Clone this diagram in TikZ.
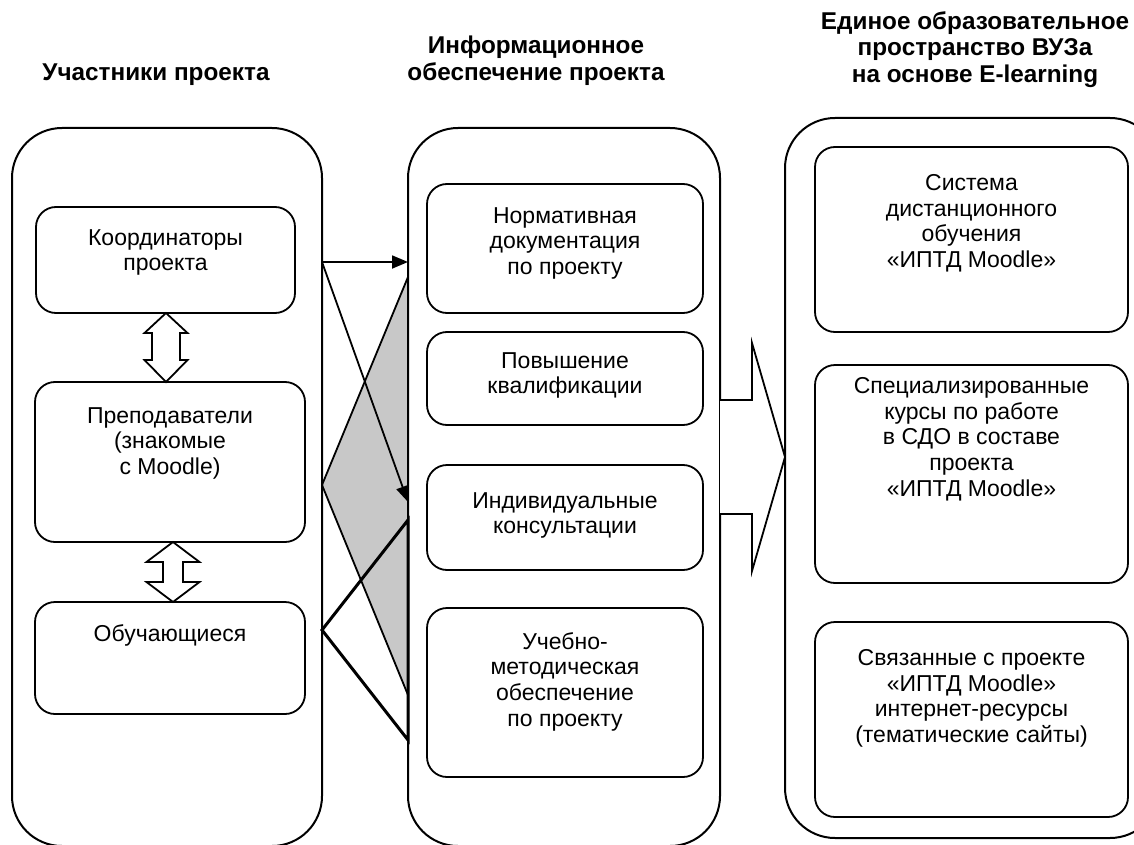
\documentclass[tikz,border=0pt]{standalone}
\usepackage{fontspec}
\setmainfont{Liberation Sans}
\usetikzlibrary{arrows.meta,calc}
\definecolor{shade}{RGB}{200,200,200}
\begin{document}
\begin{tikzpicture}[x=1pt,y=-1pt,
  frame/.style={draw, line width=2pt, rounded corners=50pt, inner sep=0pt, outer sep=0pt},
  box/.style={draw, line width=1.8pt, rounded corners=20pt, inner sep=0pt, outer sep=0pt, fill=white},
  txt/.style={font=\fontsize{23}{25.8}\selectfont, align=center, inner sep=0pt, anchor=north},
  head/.style={font=\bfseries\fontsize{24.3}{26.5}\selectfont, align=center, inner sep=0pt, anchor=north},
  conn/.style={line width=1.8pt},
  thickconn/.style={line width=3pt, line join=miter},
  arr/.style={-{Triangle[length=16pt,width=13pt]}},
  hollow/.style={draw, line width=1.8pt, fill=white, line join=miter}
]
\clip (0,0) rectangle (1134,845);
\fill[white] (0,0) rectangle (1134,845);

% frames (positions)
\path (167,487) node[minimum width=310pt, minimum height=718pt, inner sep=0pt, outer sep=0pt] (L) {};
\path (564,487) node[minimum width=312pt, minimum height=718pt, inner sep=0pt, outer sep=0pt] (M) {};
\path (972.5,478) node[minimum width=375pt, minimum height=720pt, inner sep=0pt, outer sep=0pt] (R) {};

% connector points
\coordinate (k1) at (L.east |- 0,262);
\coordinate (k2) at (M.west |- 0,262);
\coordinate (k3) at (M.west |- 0,502);
\coordinate (p0) at (L.east |- 0,485);
\coordinate (p1) at (M.west |- 0,277);
\coordinate (p2) at (M.west |- 0,695);
\coordinate (o0) at (L.east |- 0,630);
\coordinate (o1) at (M.west |- 0,520);
\coordinate (o2) at (M.west |- 0,740);

% shaded link
\draw[conn, fill=shade, line join=miter] (p1) -- (p0) -- (p2);
% thick link
\draw[thickconn] (o1) -- (o0) -- (o2) -- cycle;
% arrows
\draw[conn, arr] (k1) -- (k2);
\draw[conn, arr] (k1) -- (k3);

% frames drawn
\node[frame, minimum width=310pt, minimum height=718pt] (Lf) at (L) {};
\node[frame, minimum width=312pt, minimum height=718pt] (Mf) at (M) {};
\node[frame, minimum width=375pt, minimum height=720pt] (Rf) at (R) {};

% left boxes
\node[box, minimum width=259pt, minimum height=106pt] (bK) at (165.5,260) {};
\node[box, minimum width=270pt, minimum height=160pt] (bP) at (170,462) {};
\node[box, minimum width=270pt, minimum height=112pt] (bO) at (170,658) {};
% middle boxes
\node[box, minimum width=276pt, minimum height=129pt] (bN) at (565,248.5) {};
\node[box, minimum width=276pt, minimum height=93pt] (bQ) at (565,378.5) {};
\node[box, minimum width=276pt, minimum height=105pt] (bI) at (565,517.5) {};
\node[box, minimum width=276pt, minimum height=169pt] (bU) at (565,692.5) {};
% right boxes
\node[box, minimum width=313pt, minimum height=185pt] (bS) at (971.5,239.5) {};
\node[box, minimum width=313pt, minimum height=218pt] (bC) at (971.5,474) {};
\node[box, minimum width=313pt, minimum height=195pt] (bL) at (971.5,719.5) {};

% hollow double arrows
\draw[hollow] (bK.south -| 166,0) -- (187.5,333) -- (180,333) -- (180,360) -- (187.5,360)
  -- (bP.north -| 166,0) -- (144.5,360) -- (152,360) -- (152,333) -- (144.5,333) -- cycle;
\draw[hollow] (bP.south -| 173,0) -- (199.5,562) -- (183,562) -- (183,582) -- (199.5,582)
  -- (bO.north -| 173,0) -- (146.5,582) -- (163,582) -- (163,562) -- (146.5,562) -- cycle;

% big hollow arrow
\draw[hollow] (Mf.east |- 0,400) -- (752,400) -- (752,343) -- (Rf.west |- 0,457)
  -- (752,571) -- (752,514) -- (Mf.east |- 0,514);

% headings
\node[head] (h1) at (156,64) {Участники проекта};
\node[head] (h2) at (536,36) {Информационное\\обеспечение проекта};
\node[head] (h3) at (975,11) {Единое образовательное\\пространство ВУЗа\\на основе E-learning};

% texts
\node[txt] (tK) at ($(bK.north)+(0,22)$) {Координаторы\\проекта};
\node[txt] (tP) at ($(bP.north)+(0,25)$) {Преподаватели\\(знакомые\\с Moodle)};
\node[txt] (tO) at ($(bO.north)+(0,22)$) {Обучающиеся};
\node[txt] (tN) at ($(bN.north)+(0,23)$) {Нормативная\\документация\\по проекту};
\node[txt] (tQ) at ($(bQ.north)+(0,20)$) {Повышение\\квалификации};
\node[txt] (tI) at ($(bI.north)+(0,27)$) {Индивидуальные\\консультации};
\node[txt] (tU) at ($(bU.north)+(0,24)$) {Учебно-\\методическая\\обеспечение\\по проекту};
\node[txt] (tS) at ($(bS.north)+(0,27)$) {Система\\дистанционного\\обучения\\«ИПТД Moodle»};
\node[txt] (tC) at ($(bC.north)+(0,12)$) {Специализированные\\курсы по работе\\в СДО в составе\\проекта\\«ИПТД Moodle»};
\node[txt] (tL) at ($(bL.north)+(0,27)$) {Связанные с проекте\\«ИПТД Moodle»\\интернет-ресурсы\\(тематические сайты)};
\end{tikzpicture}
\end{document}
